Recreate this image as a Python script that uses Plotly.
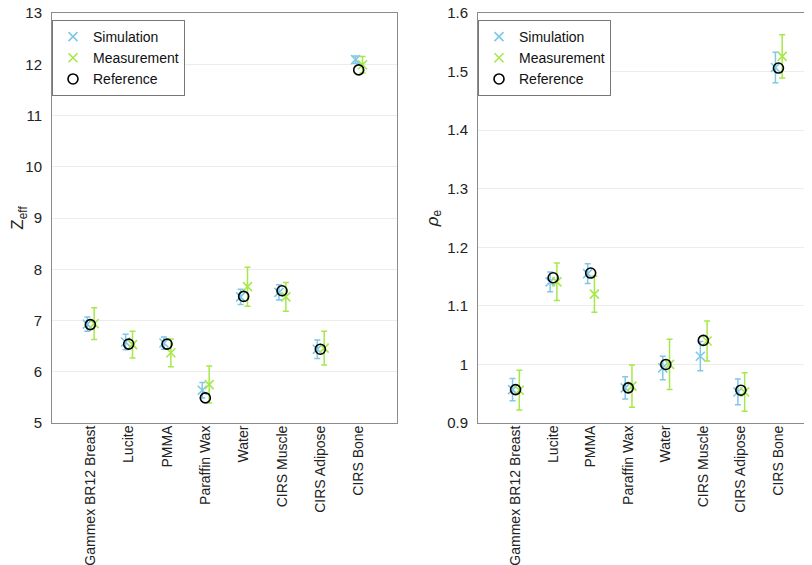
import numpy as np
import plotly.graph_objects as go

materials = ["Gammex BR12 Breast", "Lucite", "PMMA", "Paraffin Wax",
             "Water", "CIRS Muscle", "CIRS Adipose", "CIRS Bone"]

# Z_eff
zeff_sim = [6.93, 6.58, 6.56, 5.64, 7.46, 7.55, 6.44, 12.09]
zeff_sim_err = [0.14, 0.15, 0.12, 0.15, 0.15, 0.15, 0.18, 0.07]
zeff_meas = [6.94, 6.53, 6.37, 5.75, 7.66, 7.46, 6.46, 11.99]
zeff_meas_err = [0.31, 0.26, 0.27, 0.36, 0.38, 0.28, 0.33, 0.16]
zeff_ref = [6.92, 6.54, 6.54, 5.49, 7.47, 7.58, 6.44, 11.89]

# rho_e
rho_sim = [0.957, 1.141, 1.155, 0.960, 0.994, 1.014, 0.953, 1.507]
rho_sim_err = [0.019, 0.017, 0.017, 0.019, 0.020, 0.025, 0.022, 0.026]
rho_meas = [0.956, 1.141, 1.120, 0.963, 1.000, 1.040, 0.953, 1.526]
rho_meas_err = [0.034, 0.032, 0.031, 0.036, 0.043, 0.034, 0.033, 0.037]
rho_ref = [0.957, 1.148, 1.156, 0.960, 1.000, 1.041, 0.956, 1.506]

zeff_ticks = [5, 6, 7, 8, 9, 10, 11, 12, 13]
rho_ticks = [0.9, 1.0, 1.1, 1.2, 1.3, 1.4, 1.5, 1.6]
rho_ticktext = ["0.9", "1", "1.1", "1.2", "1.3", "1.4", "1.5", "1.6"]

SIM_C = "#80c8e6"
MEAS_C = "#a6e84b"
FONT = "Liberation Sans, Arial, sans-serif"

pos = np.arange(1, len(materials) + 1)
fig = go.Figure()


def add_panel(xa, ya, leg, sim, sim_err, meas, meas_err, ref):
    fig.add_trace(go.Scatter(
        x=pos - 0.08, y=sim, mode="markers", name="Simulation",
        xaxis=xa, yaxis=ya, legend=leg,
        marker=dict(symbol="x-thin", size=9, line=dict(color=SIM_C, width=1.6)),
        error_y=dict(type="data", array=sim_err, color=SIM_C, thickness=1.5, width=3),
    ))
    fig.add_trace(go.Scatter(
        x=pos + 0.1, y=meas, mode="markers", name="Measurement",
        xaxis=xa, yaxis=ya, legend=leg,
        marker=dict(symbol="x-thin", size=9, line=dict(color=MEAS_C, width=1.6)),
        error_y=dict(type="data", array=meas_err, color=MEAS_C, thickness=1.5, width=3),
    ))
    fig.add_trace(go.Scatter(
        x=pos, y=ref, mode="markers", name="Reference",
        xaxis=xa, yaxis=ya, legend=leg,
        marker=dict(symbol="circle-open", size=10, color="black", line=dict(width=1.6)),
    ))


add_panel("x", "y", "legend", zeff_sim, zeff_sim_err, zeff_meas, zeff_meas_err, zeff_ref)
add_panel("x2", "y2", "legend2", rho_sim, rho_sim_err, rho_meas, rho_meas_err, rho_ref)

xcommon = dict(range=[0, 9], tickvals=list(pos), ticktext=materials, tickangle=-90,
               showgrid=False, zeroline=False, showline=True, mirror=True,
               linecolor="#8c8c8c", linewidth=1, ticks="", ticklen=0,
               ticklabelstandoff=-4, automargin=False,
               tickfont=dict(size=14, color="#222"))
ycommon = dict(showgrid=True, gridcolor="#ececec", zeroline=False, showline=True,
               mirror=True, linecolor="#8c8c8c", linewidth=1, ticks="", ticklen=0,
               ticklabeloverflow="allow", ticklabelstandoff=6, automargin=False,
               tickfont=dict(size=15, color="#222"))

legcommon = dict(bordercolor="#777", borderwidth=1, bgcolor="white",
                 font=dict(size=14, family=FONT, color="#111"),
                 xanchor="left", yanchor="top", tracegroupgap=0, itemwidth=30)

fig.update_layout(
    width=812, height=565,
    margin=dict(l=44, r=4, t=5, b=150, autoexpand=False),
    plot_bgcolor="white", paper_bgcolor="white",
    font=dict(family=FONT, size=15, color="#222"),
    xaxis=dict(domain=[0, 0.4516], **xcommon),
    xaxis2=dict(domain=[0.5576, 1], anchor="y2", **xcommon),
    yaxis=dict(range=[5, 13], tickvals=zeff_ticks, anchor="x",
               title=dict(text="Z<sub>eff</sub>", standoff=10, font=dict(size=17)), **ycommon),
    yaxis2=dict(range=[0.9, 1.6], tickvals=rho_ticks, ticktext=rho_ticktext, anchor="x2",
                title=dict(text="<i>ρ</i><sub>e</sub>", standoff=4, font=dict(size=17)), **ycommon),
    legend=dict(x=0.0, y=0.983, xref="paper", **legcommon),
    legend2=dict(x=0.5576, y=0.983, xref="paper", **legcommon),
)

fig.write_html("out.html")
